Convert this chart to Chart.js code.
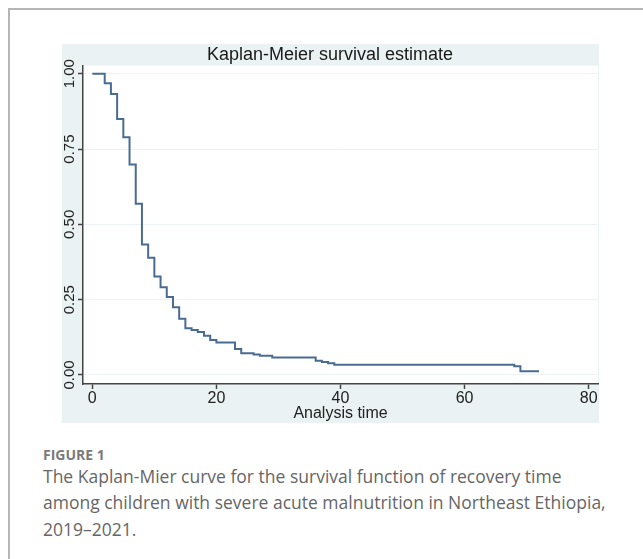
<!DOCTYPE html>
<html><head><meta charset="utf-8">
<script src="https://cdn.jsdelivr.net/npm/chart.js@4.4.1/dist/chart.umd.min.js"></script>
<style>
html,body{margin:0;padding:0;background:#fff;width:643px;height:559px;overflow:hidden;}
#frameTop{position:absolute;left:8px;top:8px;width:635px;height:2px;background:#b5b5b5;}
#frameLeft{position:absolute;left:8px;top:8px;width:2px;height:551px;background:#b5b5b5;}
#panel{position:absolute;left:62px;top:44px;width:537px;height:379px;background:#eaf2f3;}
#fig{position:absolute;left:43px;top:445px;font-family:'Open Sans',sans-serif;font-weight:bold;font-size:14px;color:#7a7a7a;line-height:20px;white-space:nowrap;}
#cap{position:absolute;left:43px;top:463px;font-family:'Open Sans',sans-serif;font-size:17.5px;color:#666666;line-height:26.3px;white-space:nowrap;}
</style></head>
<body>
<div id="frameTop"></div><div id="frameLeft"></div>
<div id="panel"><canvas id="c" width="537" height="379"></canvas></div>
<div id="fig">FIGURE 1</div>
<div id="cap">The Kaplan-Mier curve for the survival function of recovery time<br>among children with severe acute malnutrition in Northeast Ethiopia,<br>2019–2021.</div>
<script>
const chartTitle = 'Kaplan-Meier survival estimate';
const xAxisTitle = 'Analysis time';
const timePoints = [0, 2, 3, 4, 5, 6, 7, 8, 9, 10, 11, 12, 13, 14, 15, 16, 17, 18, 19, 20, 23, 24, 26, 27, 29, 36, 37, 38, 39, 68, 69, 72];
const survival   = [1.000, 0.968, 0.933, 0.850, 0.789, 0.699, 0.568, 0.433, 0.389, 0.327, 0.291, 0.259, 0.225, 0.187, 0.155, 0.149, 0.143, 0.130, 0.116, 0.108, 0.086, 0.072, 0.068, 0.064, 0.058, 0.047, 0.043, 0.039, 0.034, 0.029, 0.012, 0.012];
const xTicks = [0, 20, 40, 60, 80];
const yTicks = [0, 0.25, 0.5, 0.75, 1];

const FONT = "'Liberation Sans', Arial, sans-serif";
const plotBg = {
  id: 'plotBg',
  beforeDraw(chart) {
    const {ctx, chartArea: a} = chart;
    ctx.save();
    ctx.fillStyle = '#ffffff';
    ctx.fillRect(a.left, a.top, a.right - a.left, a.bottom - a.top);
    ctx.restore();
  }
};

new Chart(document.getElementById('c'), {
  type: 'line',
  data: {
    datasets: [{
      data: timePoints.map((t, i) => ({x: t, y: survival[i]})),
      stepped: 'before',
      borderColor: '#4a6b92',
      borderWidth: 2,
      pointRadius: 0,
      fill: false
    }]
  },
  options: {
    responsive: false,
    animation: false,
    devicePixelRatio: 1,
    layout: {padding: {left: 0, right: 1, top: 0, bottom: 0}},
    plugins: {
      legend: {display: false},
      tooltip: {enabled: false},
      title: {
        display: true, text: chartTitle, color: '#1a1a1a',
        font: {family: FONT, size: 18, weight: 'normal'},
        padding: {top: 0, bottom: 0}
      }
    },
    scales: {
      x: {
        type: 'linear', min: -1.5, max: 81.5,
        afterBuildTicks: s => { s.ticks = xTicks.map(v => ({value: v})); },
        afterFit: s => { s.height = 39; },
        border: {display: true, color: '#444', width: 1.5},
        grid: {drawOnChartArea: false, drawTicks: true, tickLength: 5, tickColor: '#444', tickWidth: 1.5},
        ticks: {color: '#222', font: {family: FONT, size: 16}, padding: 0, maxRotation: 0},
        title: {display: true, text: xAxisTitle, color: '#222', font: {family: FONT, size: 16}, padding: {top: 0, bottom: 0}}
      },
      y: {
        type: 'linear', min: -0.03, max: 1.027,
        afterBuildTicks: s => { s.ticks = yTicks.map(v => ({value: v})); },
        afterFit: s => { s.width = 21; },
        border: {display: true, color: '#444', width: 1.5},
        grid: {color: '#edf3f4', lineWidth: 1, drawTicks: true, tickLength: 5, tickColor: '#444', tickWidth: 1.5},
        ticks: {color: '#222', font: {family: FONT, size: 15}, minRotation: 90, maxRotation: 90, crossAlign: 'center', padding: -6,
          callback: v => v.toFixed(2)}
      }
    }
  },
  plugins: [plotBg]
});
</script>
</body></html>
